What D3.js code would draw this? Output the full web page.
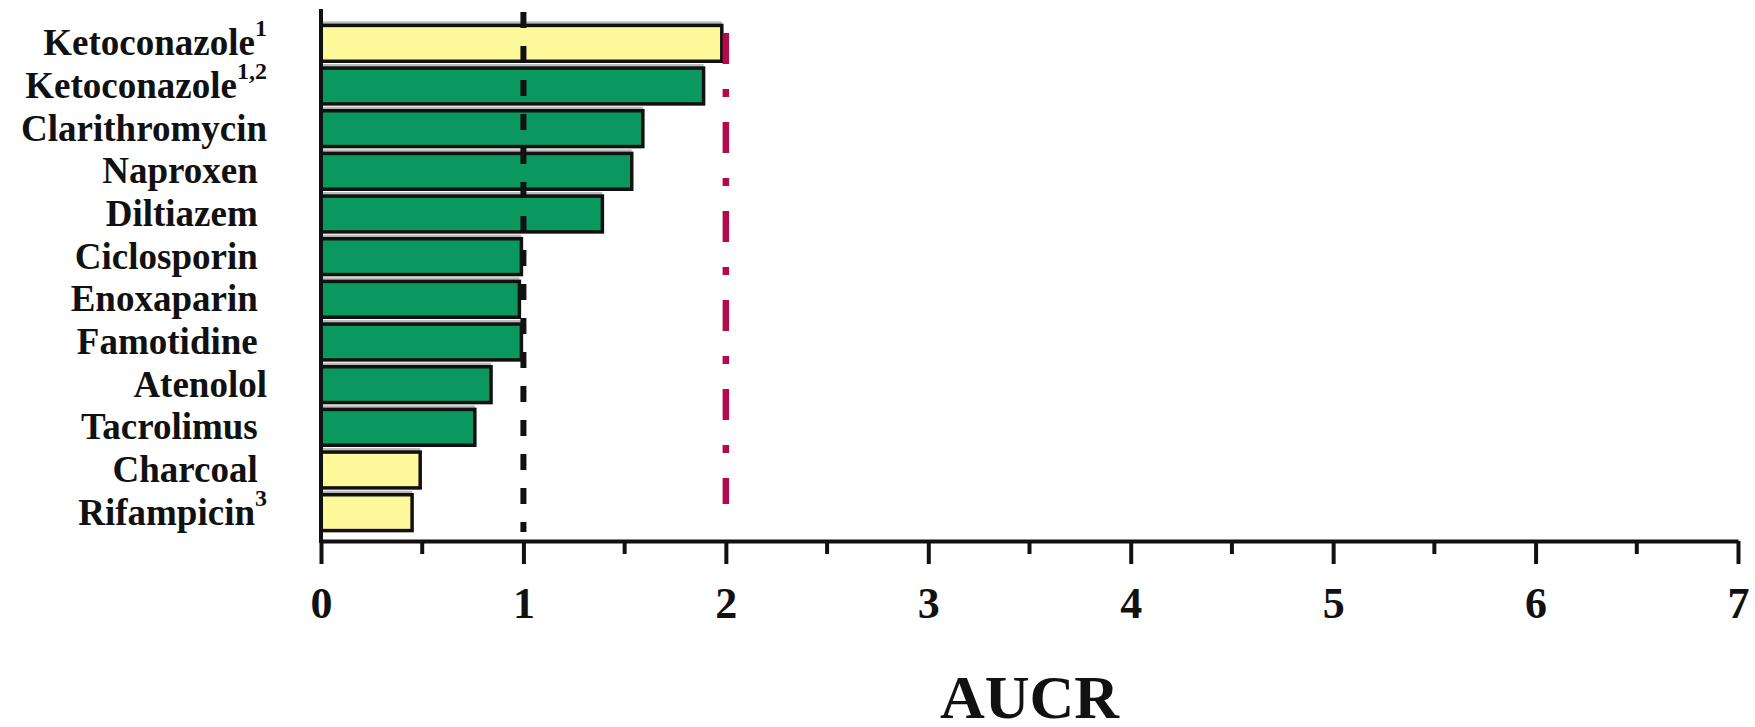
<!DOCTYPE html>
<html>
<head>
<meta charset="utf-8">
<script src="https://cdn.jsdelivr.net/npm/d3@7"></script>
<style>
  body { margin: 0; background: #fff; }
  svg text { font-family: "Liberation Serif", "Times New Roman", serif; font-weight: bold; white-space: pre; }
</style>
</head>
<body>
<svg id="chart"></svg>
<script>
// data
const drugs = ['Ketoconazole', 'Ketoconazole', 'Clarithromycin', 'Naproxen ', 'Diltiazem ', 'Ciclosporin ',
  'Enoxaparin ', 'Famotidine ', 'Atenolol', 'Tacrolimus ', 'Charcoal ', 'Rifampicin'];
const footnotes = ['1', '1,2', '', '', '', '', '', '', '', '', '', '3'];
const aucr = [1.98, 1.89, 1.59, 1.535, 1.39, 0.99, 0.98, 0.99, 0.84, 0.76, 0.49, 0.45];
const group = ['A', 'B', 'B', 'B', 'B', 'B', 'B', 'B', 'B', 'B', 'A', 'A'];
const xTicks = [0, 1, 2, 3, 4, 5, 6, 7];
const xMinorTicks = [0.5, 1.5, 2.5, 3.5, 4.5, 5.5, 6.5];
const noEffectLine = 1;
const weakInhibitorLine = 2;

class BarChart {

  constructor(_config, data) {
    this.config = {
      parentElement: _config.parentElement,
      containerWidth: 1755,
      containerHeight: 727,
      margin: {top: 22, right: 17, bottom: 186, left: 321}
    };
    this.data = data;
    this.initVis();
  }

  initVis() {
    let vis = this;

    vis.width = vis.config.containerWidth - vis.config.margin.left - vis.config.margin.right;
    vis.height = vis.config.containerHeight - vis.config.margin.top - vis.config.margin.bottom;

    vis.xScale = d3.scaleLinear()
        .domain([0, 7])
        .range([0, vis.width]);

    vis.yScale = d3.scaleBand()
        .domain(vis.data.map((d, i) => i))
        .range([0, vis.height - 7])
        .paddingInner(0.16)
        .paddingOuter(0.08);

    vis.colorScale = d3.scaleOrdinal()
        .domain(['A', 'B'])
        .range(['#fdf99b', '#0a985f']);

    vis.svg = d3.select(vis.config.parentElement)
        .attr('width', vis.config.containerWidth)
        .attr('height', vis.config.containerHeight);

    vis.chart = vis.svg.append('g')
        .attr('transform', `translate(${vis.config.margin.left},${vis.config.margin.top})`);

    vis.updateVis();
  }

  updateVis() {
    let vis = this;
    vis.renderVis();
  }

  renderVis() {
    let vis = this;

    // light grey shadow between bars
    vis.chart.selectAll('.shadow')
        .data(vis.data)
      .join('rect')
        .attr('class', 'shadow')
        .attr('x', 0)
        .attr('y', d => vis.yScale(d.i) - 4)
        .attr('width', d => vis.xScale(d.value))
        .attr('height', vis.yScale.bandwidth())
        .attr('fill', '#b9b9b9');

    vis.chart.selectAll('.bar')
        .data(vis.data)
      .join('rect')
        .attr('class', 'bar')
        .attr('x', 0)
        .attr('y', d => vis.yScale(d.i))
        .attr('width', d => vis.xScale(d.value))
        .attr('height', vis.yScale.bandwidth())
        .attr('fill', d => vis.colorScale(d.group))
        .attr('stroke', '#111')
        .attr('stroke-width', 3.5);

    // category labels with footnote superscripts
    let labels = vis.chart.selectAll('.label')
        .data(vis.data)
      .join('text')
        .attr('class', 'label')
        .attr('x', -54)
        .attr('y', d => vis.yScale(d.i) + vis.yScale.bandwidth() / 2 + 12)
        .attr('text-anchor', 'end')
        .attr('font-size', '37px')
        .attr('fill', '#111');
    labels.append('tspan').text(d => d.name);
    labels.filter(d => d.note !== '')
      .append('tspan')
        .attr('font-size', '24px')
        .attr('dy', -19)
        .text(d => d.note);

    let axisY = vis.height + 519 - vis.height;

    // x axis
    let xAxis = d3.axisBottom(vis.xScale)
        .tickValues(xTicks)
        .tickSize(23)
        .tickSizeOuter(0)
        .tickFormat(d3.format('d'));

    let xAxisG = vis.chart.append('g')
        .attr('transform', `translate(0,${axisY})`)
        .call(xAxis);
    xAxisG.select('.domain').attr('stroke', '#111').attr('stroke-width', 4);
    xAxisG.selectAll('.tick line').attr('stroke', '#111').attr('stroke-width', 4);
    xAxisG.selectAll('.tick text')
        .attr('y', 77)
        .attr('dy', null)
        .attr('font-size', '44px')
        .attr('font-family', '"Liberation Serif", "Times New Roman", serif')
        .attr('font-weight', 'bold')
        .attr('fill', '#111');

    vis.chart.append('g')
      .selectAll('line')
        .data(xMinorTicks)
      .join('line')
        .attr('x1', d => vis.xScale(d))
        .attr('x2', d => vis.xScale(d))
        .attr('y1', axisY)
        .attr('y2', axisY + 13)
        .attr('stroke', '#111')
        .attr('stroke-width', 4);

    // y axis line
    vis.chart.append('line')
        .attr('x1', vis.xScale(0))
        .attr('x2', vis.xScale(0))
        .attr('y1', -13)
        .attr('y2', axisY + 2)
        .attr('stroke', '#111')
        .attr('stroke-width', 4);

    // reference lines
    vis.chart.append('line')
        .attr('x1', vis.xScale(noEffectLine))
        .attr('x2', vis.xScale(noEffectLine))
        .attr('y1', -10)
        .attr('y2', axisY - 9)
        .attr('stroke', '#111')
        .attr('stroke-width', 6)
        .attr('stroke-dasharray', '16,18');

    vis.chart.append('line')
        .attr('x1', vis.xScale(weakInhibitorLine))
        .attr('x2', vis.xScale(weakInhibitorLine))
        .attr('y1', 11)
        .attr('y2', 482)
        .attr('stroke', '#b30a4d')
        .attr('stroke-width', 6.5)
        .attr('stroke-dasharray', '31,25,8,25');

    // axis title
    vis.svg.append('text')
        .attr('x', vis.config.margin.left + vis.width / 2)
        .attr('y', 718)
        .attr('text-anchor', 'middle')
        .attr('font-size', '62px')
        .attr('fill', '#111')
        .text('AUCR');
  }
}

const data = drugs.map((d, i) => ({i: i, name: d, note: footnotes[i], value: aucr[i], group: group[i]}));
new BarChart({parentElement: '#chart'}, data);
</script>
</body>
</html>
